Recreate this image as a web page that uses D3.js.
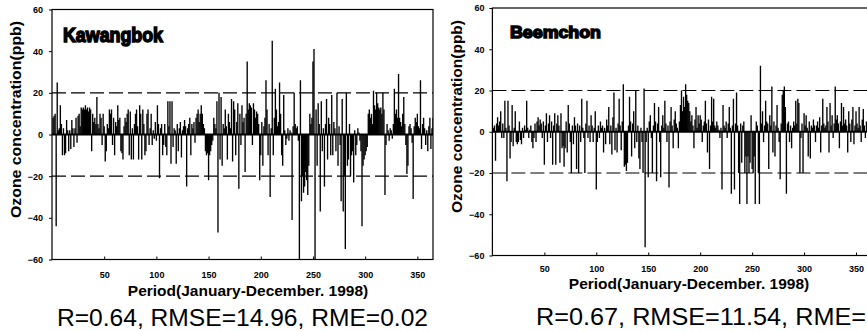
<!DOCTYPE html>
<html>
<head>
<meta charset="utf-8">
<script src="https://cdn.jsdelivr.net/npm/d3@7"></script>
<style>
  html, body { margin: 0; padding: 0; background: #fff; }
  svg { display: block; font-family: "Liberation Sans", Arial, sans-serif; }
</style>
</head>
<body>
<div id="chart"></div>
<script>
// daily residuals (ppb), day 1..365
const kawangbok = [
  8, 9, 10, -44, 25, 2, 3, 14, 5, -10,
  3, -10, -9, 7, 2, -8, 2, -7, 7, 3,
  -6, 3, 8, -4, 9, 10, 4, 13, 12, 13,
  12, 14, 12, 13, 11, 13, 12, -8, 10, 6,
  8, 5, 18, 5, 3, 10, 8, -5, 10, 4,
  -13, -8, 5, 3, 12, 10, 12, -5, 8, -10,
  6, 4, 14, 7, 8, -8, -9, -12, 4, 8,
  6, 10, 12, -10, 11, -12, 3, -12, 5, 10,
  12, 4, -12, 14, 10, -12, 12, 5, -10, -8,
  10, 12, -5, 3, 10, -5, 2, -2, 6, -3,
  14, 5, -21, 3, 5, -10, -5, 5, -6, -10,
  16, 4, 16, -14, 16, -6, 3, 2, -14, 5,
  -8, 3, 6, -11, 2, 4, 7, 4, -25, 3,
  5, 8, -10, 5, 3, 6, -4, 8, 10, 12,
  6, 10, 14, 10, 5, 3, -8, -10, -9, -22,
  -10, -8, -5, -3, 8, 5, 3, 16, -47, 20,
  -12, 18, -15, 5, 3, 12, 4, -12, 10, 6,
  3, 17, -13, 16, 12, -10, 6, 15, -26, 10,
  -5, 14, 6, 8, -18, 10, 35, 12, 15, 14,
  13, -5, 15, 12, 8, 11, 10, 5, -22, -10,
  6, -15, 4, 8, 26, 12, -10, 5, -30, 3,
  45, -10, 8, 22, 12, 4, 6, 25, 10, -10,
  -15, 19, 2, -5, -2, 3, -3, 2, 1, -41,
  4, 20, 5, 3, 4, -3, -60, 26, -32, -20,
  -28, -25, -18, -22, -29, -15, 10, 5, 8, 35,
  41, -60, 12, -15, 15, 5, -37, 16, -8, 3,
  -25, 5, 17, -12, 8, 5, -10, 19, -10, 6,
  3, -8, 20, -15, 4, -5, -32, 17, -37, -20,
  -55, 20, -15, -12, 5, -20, -10, -8, -23, 2,
  -10, -5, 3, 1, -3, -8, -44, -15, -12, -10,
  -8, -6, 10, 12, 8, 10, 5, 21, 14, 12,
  20, 15, 13, 12, 13, 10, 20, 12, -29, -5,
  5, 2, -3, 3, 2, -2, 5, 22, 10, 12,
  8, 29, 8, 6, 4, 10, 18, 5, -5, -19,
  -15, 4, 5, 3, -4, -31, 4, 8, 6, 10,
  4, 3, 26, -7, 5, 8, 3, -5, 2, -8,
  4, 8, -7, 3, 8
];

// day 1..360 (the rest of the year is cut off by the picture edge)
const beemchon = [
  2, 3, -14, 4, 7, 3, 5, 10, -3, 4,
  -3, 15, 2, -24, 15, 3, -13, -5, 13, -7,
  2, 10, -5, -6, -5, 5, -4, -6, 2, -3,
  3, 1, 15, 2, -3, 1, 3, -5, -8, -3,
  4, -5, 5, 7, 3, 6, 4, -3, 5, -16,
  3, 9, -5, 4, 8, -3, 5, -16, 3, 9,
  -16, 4, 8, 3, -15, 9, -8, -7, -17, -8,
  5, -10, 13, 4, -5, -20, 3, -6, 7, 3,
  -18, 4, -20, 3, -5, 16, 2, -3, -20, 4,
  15, -3, 3, -5, 8, 3, -5, 2, 10, -28,
  -5, 3, -3, 5, 2, 3, -10, 2, -6, 6,
  3, 12, -6, 3, -11, 7, 19, -9, 2, -10,
  4, 16, 3, -9, 5, 23, -17, -16, -19, -15,
  3, 17, 5, -12, 4, 10, -8, 20, -5, 3,
  -13, -18, 2, -5, -20, 21, -56, -5, 2, -22,
  5, 8, -3, -20, 3, 14, 5, -24, 4, 12,
  -5, -22, 3, 8, 2, 15, 4, -5, 3, -27,
  5, 12, 3, -8, 6, 10, 4, 2, -8, 5,
  13, 20, 10, 17, 12, 23, 18, 15, 14, 10,
  5, 8, 3, -8, 6, 12, 2, 8, 4, 8,
  6, -5, 3, 5, 15, 4, -10, 6, -18, 3,
  17, 5, 16, 3, 2, 5, 3, 1, -3, 2,
  -28, 13, 3, 2, 5, -3, 4, 12, 2, -30,
  3, 16, -28, 4, 19, 3, -20, -35, 4, -15,
  3, 5, -20, -12, -35, -12, -20, -15, 8, -18,
  -20, -12, -35, 5, 3, -20, -35, 32, 4, 10,
  -5, 3, 15, 5, 4, -18, 8, 3, 22, -10,
  5, -12, 3, 13, 2, -5, -23, 4, 18, 20,
  22, 12, -30, 4, 5, -5, 3, -8, 2, 5,
  3, 15, 4, 16, 14, -20, -3, 4, -20, 9,
  3, 8, 2, -12, 5, -13, 3, 2, 6, 3,
  -5, 3, 5, 2, 7, -10, 3, 16, 4, 2,
  3, 12, 5, -10, 14, 3, 8, -3, 4, 22,
  6, 8, 4, -8, 5, 14, 3, 12, 4, 6,
  3, -10, 10, 4, -5, 6, 12, -6, 3, 10,
  4, 2, 12, 3, -5, 6, 11, 3, -3, 5
];

const xTicks = [50, 100, 150, 200, 250, 300, 350];
const yTicks = [-60, -40, -20, 0, 20, 40, 60];
const bandLimits = [-20, 20];
const xTitle = 'Period(January-December. 1998)';
const yTitle = 'Ozone concentration(ppb)';

const panels = [
  {
    id: 'kw', name: 'Kawangbok', values: kawangbok, stats: 'R=0.64, RMSE=14.96, RME=0.02',
    left: 52, right: 433, top: 9.5, bottom: 259.5,
    nameX: 63, nameY: 42, nameLen: 100, nameSize: 20,
    yPad: 6, xPad: 12.5, yTitleX: 15, yTitleY: 119.5, yTitleLen: 197,
    xTitleX: 248, xTitleY: 296, statsX: 57, statsY: 326, statsLen: 371
  },
  {
    id: 'bc', name: 'Beemchon', values: beemchon, stats: 'R=0.67, RMSE=11.54, RME=',
    left: 492.4, right: 871.6, top: 8, bottom: 255.5,
    nameX: 510, nameY: 37.5, nameLen: 91, nameSize: 17,
    yPad: 5, xPad: 10.5, yTitleX: 456, yTitleY: 116.5, yTitleLen: 193,
    xTitleX: 689, xTitleY: 289, statsX: 536, statsY: 325, statsLen: 330
  }
];

const width = 867, height = 331;
const svg = d3.select('#chart').append('svg').attr('width', width).attr('height', height);

function drawPanel(p) {
  const x = d3.scaleLinear().domain([0, 365]).range([p.left, p.right]);
  const y = d3.scaleLinear().domain([-60, 60]).range([p.bottom, p.top]);
  const g = svg.append('g');

  g.append('clipPath').attr('id', 'clip-' + p.id)
    .append('rect')
    .attr('x', p.left).attr('y', p.top)
    .attr('width', p.right - p.left).attr('height', p.bottom - p.top);

  const plot = g.append('g').attr('clip-path', `url(#clip-${p.id})`);

  plot.selectAll('.bar').data(p.values).join('line')
    .attr('class', 'bar')
    .attr('x1', (d, i) => x(i + 1))
    .attr('x2', (d, i) => x(i + 1))
    .attr('y1', y(0))
    .attr('y2', (d) => y(d))
    .attr('stroke', '#000')
    .attr('stroke-width', 1.35);

  plot.append('line')
    .attr('x1', p.left).attr('x2', p.right)
    .attr('y1', y(0)).attr('y2', y(0))
    .attr('stroke', '#000').attr('stroke-width', 1.8);

  plot.selectAll('.limit').data(bandLimits).join('line')
    .attr('class', 'limit')
    .attr('x1', p.left).attr('x2', p.right)
    .attr('y1', (d) => y(d)).attr('y2', (d) => y(d))
    .attr('stroke', '#000').attr('stroke-width', 1.2)
    .attr('stroke-dasharray', '14,5');

  g.append('rect')
    .attr('x', p.left).attr('y', p.top)
    .attr('width', p.right - p.left).attr('height', p.bottom - p.top)
    .attr('fill', 'none').attr('stroke', '#000').attr('stroke-width', 1.2);

  const ya = g.append('g')
    .attr('transform', `translate(${p.left},0)`)
    .call(d3.axisLeft(y).tickValues(yTicks).tickSize(3).tickPadding(p.yPad));
  const xa = g.append('g')
    .attr('transform', `translate(0,${p.bottom})`)
    .call(d3.axisBottom(x).tickValues(xTicks).tickSize(-3).tickPadding(p.xPad));
  [ya, xa].forEach((a) => {
    a.select('.domain').remove();
    a.selectAll('line').attr('stroke', '#000');
    a.selectAll('text')
      .attr('fill', '#000')
      .attr('font-size', 9)
      .attr('font-weight', 'bold')
      .attr('font-family', '"Liberation Sans", Arial, sans-serif');
  });

  g.append('text')
    .attr('x', p.nameX).attr('y', p.nameY)
    .attr('font-size', p.nameSize).attr('font-weight', 900)
    .attr('stroke', '#000').attr('stroke-width', 1.5)
    .attr('textLength', p.nameLen).attr('lengthAdjust', 'spacingAndGlyphs')
    .text(p.name);

  g.append('text')
    .attr('transform', `translate(${p.yTitleX},${p.yTitleY}) rotate(-90)`)
    .attr('text-anchor', 'middle').attr('dy', '0.36em')
    .attr('font-size', 15.5).attr('font-weight', 'bold')
    .attr('textLength', p.yTitleLen).attr('lengthAdjust', 'spacingAndGlyphs')
    .text(yTitle);

  g.append('text')
    .attr('x', p.xTitleX).attr('y', p.xTitleY)
    .attr('text-anchor', 'middle')
    .attr('font-size', 15.5).attr('font-weight', 'bold')
    .text(xTitle);

  g.append('text')
    .attr('x', p.statsX).attr('y', p.statsY)
    .attr('font-size', 24)
    .attr('textLength', p.statsLen).attr('lengthAdjust', 'spacingAndGlyphs')
    .text(p.stats);
}

panels.forEach(drawPanel);
</script>
</body>
</html>
